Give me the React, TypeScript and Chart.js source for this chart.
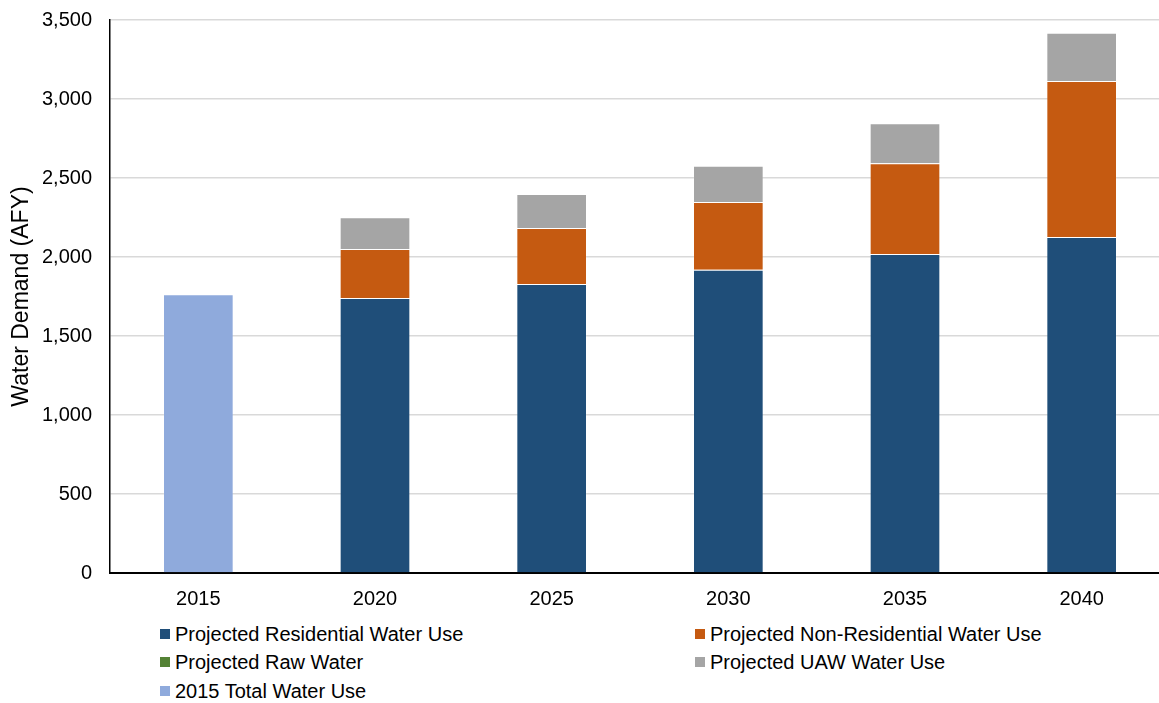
import React, { useEffect, useRef } from "react";
import { Chart, registerables } from "chart.js";

Chart.register(...registerables);

const categories = ["2015", "2020", "2025", "2030", "2035", "2040"];
const residential = [null, 1740, 1829, 1920, 2019, 2127];
const nonResidential = [null, 311, 355, 428, 574, 987];
const rawWater = [null, 0, 0, 0, 0, 0];
const uaw = [null, 200, 215, 230, 253, 306];
const total2015 = [1764, null, null, null, null, null];
const yTicks = [0, 500, 1000, 1500, 2000, 2500, 3000, 3500];

const seriesNames = [
  "Projected Residential Water Use",
  "Projected Non-Residential Water Use",
  "Projected Raw Water",
  "Projected UAW Water Use",
  "2015 Total Water Use",
];
const seriesColors = ["#1F4E79", "#C55A11", "#548235", "#A5A5A5", "#8FAADC"];

const FONT = "'Liberation Sans', Arial, sans-serif";

export default function App() {
  const ref = useRef<HTMLCanvasElement | null>(null);

  useEffect(() => {
    document.body.style.margin = "0";
    const ctx = ref.current;
    if (!ctx) return;
    const seriesData = [residential, nonResidential, rawWater, uaw, total2015];
    const chart = new Chart(ctx, {
      type: "bar",
      data: {
        labels: categories,
        datasets: seriesNames.map((name, i) => ({
          label: name,
          data: seriesData[i] as any,
          backgroundColor: seriesColors[i],
          borderColor: "rgba(255,255,255,0.12)",
          borderWidth: 1,
          borderSkipped: "bottom",
          stack: "s",
          barPercentage: 0.4,
          categoryPercentage: 1,
        })),
      },
      options: {
        responsive: false,
        animation: false,
        layout: { padding: { top: 20, right: 0, bottom: 0, left: 0 } },
        plugins: { legend: { display: false }, tooltip: { enabled: false } },
        scales: {
          x: {
            stacked: true,
            grid: { display: false, drawTicks: false },
            border: { display: true, color: "#000", width: 2 },
            ticks: { color: "#000", font: { family: FONT, size: 20 }, padding: 14 },
            afterFit: (s: any) => {
              s.height = 47;
              s.paddingLeft = 0;
              s.paddingRight = 0;
            },
          },
          y: {
            stacked: true,
            min: 0,
            max: 3500,
            afterBuildTicks: (s: any) => {
              s.ticks = yTicks.map((v) => ({ value: v }));
            },
            grid: { color: "#D9D9D9", lineWidth: 1.5, drawTicks: false },
            border: { display: true, color: "#000", width: 1.5 },
            ticks: {
              color: "#000",
              font: { family: FONT, size: 20 },
              padding: 18,
              callback: (v: any) => Number(v).toLocaleString("en-US"),
            },
            title: {
              display: true,
              text: "Water Demand (AFY)",
              color: "#000",
              font: { family: FONT, size: 23 },
              padding: { top: 8, bottom: 0 },
            },
            afterFit: (s: any) => {
              s.width = 110;
              s.paddingTop = 0;
              s.paddingBottom = 0;
            },
          },
        },
      },
    });
    return () => chart.destroy();
  }, []);

  const legendPos = [
    { left: 160, top: 634 },
    { left: 695, top: 634 },
    { left: 160, top: 662 },
    { left: 695, top: 662 },
    { left: 160, top: 691 },
  ];

  return (
    <div style={{ position: "relative", width: 1159, height: 703, overflow: "hidden", background: "#fff" }}>
      <canvas ref={ref} width={1170} height={620} style={{ position: "absolute", left: 0, top: 0 }} />
      {seriesNames.map((name, i) => (
        <div
          key={name}
          style={{
            position: "absolute",
            left: legendPos[i].left,
            top: legendPos[i].top - 12,
            height: 24,
            display: "flex",
            alignItems: "center",
            fontFamily: FONT,
            fontSize: 20,
            color: "#000",
            whiteSpace: "nowrap",
          }}
        >
          <span style={{ display: "inline-block", width: 10, height: 10, background: seriesColors[i], marginRight: 5 }} />
          <span>{name}</span>
        </div>
      ))}
    </div>
  );
}
